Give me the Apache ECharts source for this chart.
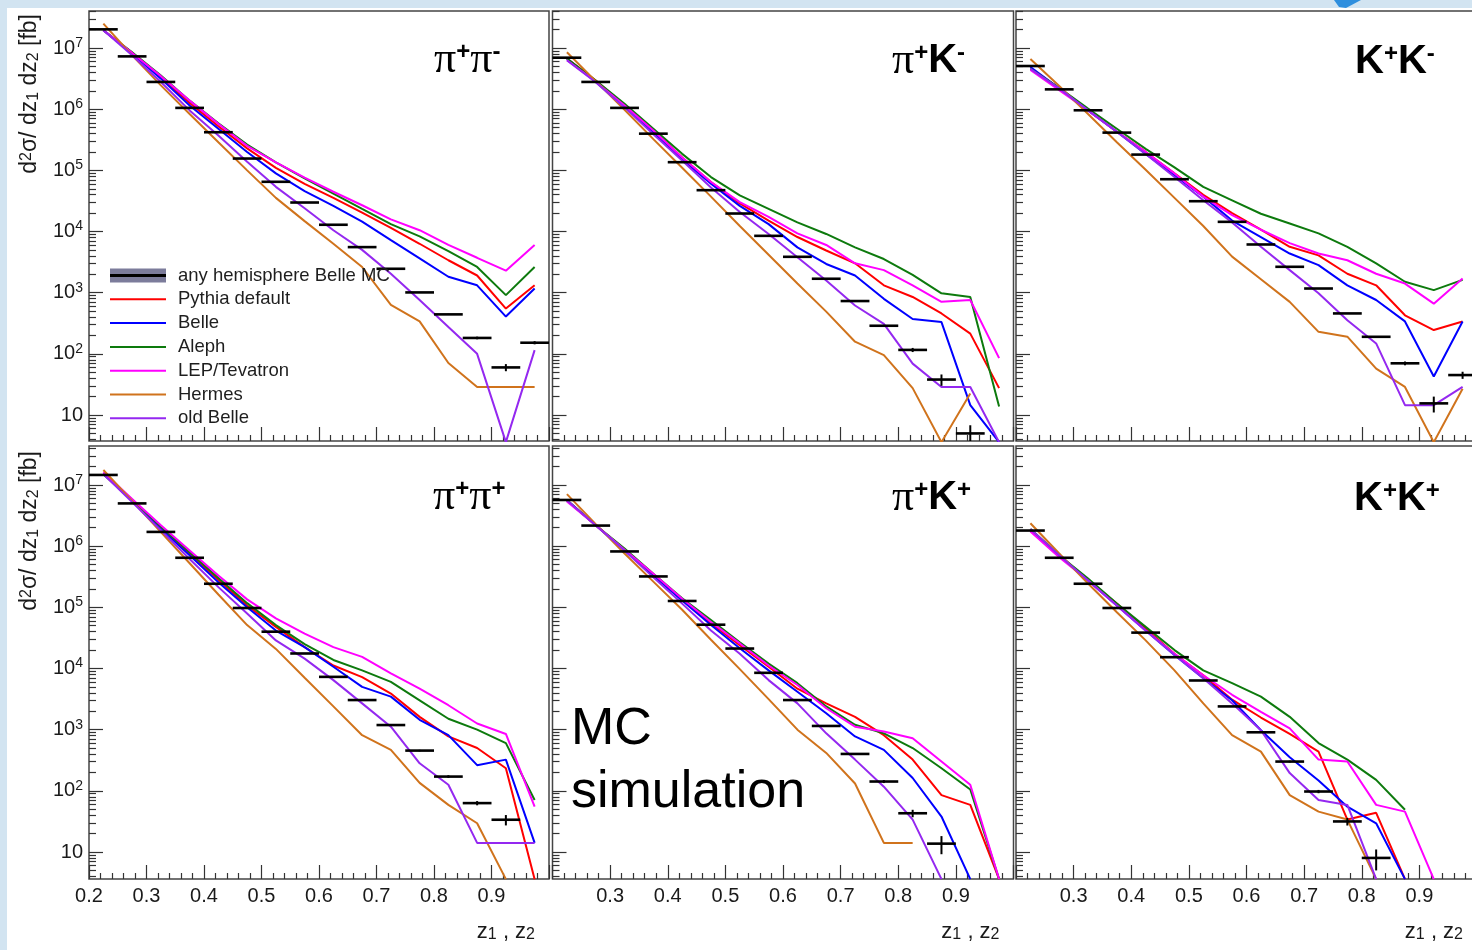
<!DOCTYPE html>
<html>
<head>
<meta charset="utf-8">
<script src="https://cdn.jsdelivr.net/npm/echarts@6/dist/echarts.min.js"></script>
<style>
  html, body { margin: 0; padding: 0; background: #ffffff; }
  #chart { width: 1472px; height: 950px; }
</style>
</head>
<body>
<div id="chart"></div>
<script>
// Bin centres in z (bins are 0.05 wide from 0.2 to 1.0)
const zCenters = [0.225, 0.275, 0.325, 0.375, 0.425, 0.475, 0.525, 0.575,
                  0.625, 0.675, 0.725, 0.775, 0.825, 0.875, 0.925, 0.975];
const halfBin = 0.025;

// Axis ticks
const xTickLabels = [0.2, 0.3, 0.4, 0.5, 0.6, 0.7, 0.8, 0.9];
const yMajorTicks = [10, 1e2, 1e3, 1e4, 1e5, 1e6, 1e7];
const yMinorTicks = [4, 5, 6, 7, 8, 9,
  20, 30, 40, 50, 60, 70, 80, 90,
  200, 300, 400, 500, 600, 700, 800, 900,
  2e3, 3e3, 4e3, 5e3, 6e3, 7e3, 8e3, 9e3,
  2e4, 3e4, 4e4, 5e4, 6e4, 7e4, 8e4, 9e4,
  2e5, 3e5, 4e5, 5e5, 6e5, 7e5, 8e5, 9e5,
  2e6, 3e6, 4e6, 5e6, 6e6, 7e6, 8e6, 9e6,
  2e7, 3e7, 4e7];

// ---- pi+ pi- ----
const pipimBelleMC = [2.02e7, 7.3e6, 2.79e6, 1.05e6, 4.2e5, 1.56e5, 6.5e4, 2.98e4, 1.29e4, 5.56e3, 2.46e3, 1.01e3, 442, 182, 60, 152];
const pipimErr     = [3e4, 1.2e4, 5e3, 2e3, 900, 400, 200, 100, 50, 30, 18, 12, 9, 9, 8, 9];
const pipimPythia  = [1.95e7, 8.32e6, 3.31e6, 1.26e6, 5.25e5, 2.29e5, 1.10e5, 6.03e4, 3.55e4, 2.04e4, 1.15e4, 6.31e3, 3.39e3, 1.91e3, 550, 1.32e3];
const pipimBelle   = [1.95e7, 8.13e6, 3.16e6, 1.15e6, 4.79e5, 2.0e5, 8.91e4, 4.57e4, 2.63e4, 1.45e4, 7.24e3, 3.63e3, 1.82e3, 1.32e3, 407, 1.17e3];
const pipimAleph   = [1.95e7, 8.51e6, 3.55e6, 1.38e6, 5.89e5, 2.63e5, 1.35e5, 7.41e4, 4.17e4, 2.34e4, 1.32e4, 8.32e3, 4.79e3, 2.63e3, 912, 2.63e3];
const pipimLep     = [1.95e7, 8.32e6, 3.47e6, 1.38e6, 5.75e5, 2.51e5, 1.35e5, 7.59e4, 4.47e4, 2.69e4, 1.58e4, 1.05e4, 6.03e3, 3.72e3, 2.29e3, 6.03e3];
const pipimHermes  = [2.51e7, 7.59e6, 2.45e6, 8.32e5, 2.88e5, 1.0e5, 3.55e4, 1.48e4, 6.31e3, 2.63e3, 631, 339, 70.8, 28.8, 28.8, 28.8];
const pipimOldBelle= [1.95e7, 7.59e6, 2.79e6, 9.55e5, 3.72e5, 1.38e5, 5.37e4, 2.40e4, 1.05e4, 5.01e3, 2.04e3, 759, 275, 100, 3.6, 115];

// ---- pi+ K- ----
const pipKmBelleMC = [6.95e6, 2.79e6, 1.05e6, 3.98e5, 1.36e5, 4.74e4, 1.97e4, 8.5e3, 3.86e3, 1.69e3, 730, 288, 116, 38, 5.0, null];
const pipKmErr     = [1.2e4, 5e3, 2e3, 900, 400, 180, 100, 55, 35, 22, 14, 9, 9, 8, 1.8, null];
const pipKmPythia  = [6.76e6, 2.95e6, 1.15e6, 4.47e5, 1.62e5, 6.46e4, 2.88e4, 1.51e4, 8.13e3, 4.90e3, 3.02e3, 1.32e3, 851, 457, 214, 27.5];
const pipKmBelle   = [6.76e6, 2.82e6, 1.10e6, 4.17e5, 1.51e5, 6.03e4, 2.63e4, 1.32e4, 5.50e3, 2.95e3, 1.91e3, 794, 372, 331, 14.5, 3.6];
const pipKmAleph   = [6.76e6, 2.95e6, 1.23e6, 4.79e5, 1.86e5, 7.76e4, 3.89e4, 2.34e4, 1.41e4, 9.12e3, 5.50e3, 3.55e3, 1.95e3, 977, 851, 13.8];
const pipKmLep     = [6.31e6, 2.82e6, 1.15e6, 4.47e5, 1.62e5, 6.46e4, 3.02e4, 1.74e4, 9.33e3, 6.03e3, 3.02e3, 2.34e3, 1.32e3, 708, 759, 85.1];
const pipKmHermes  = [8.51e6, 2.88e6, 9.77e5, 3.24e5, 1.10e5, 3.72e4, 1.23e4, 4.17e3, 1.41e3, 490, 158, 95.5, 27.5, 3.6, 22.4, null];
const pipKmOldBelle= [6.31e6, 2.75e6, 1.07e6, 3.89e5, 1.45e5, 5.25e4, 2.09e4, 9.12e3, 3.80e3, 1.58e3, 617, 309, 69.2, 28.8, 28.8, 3.6];

// ---- K+ K- ----
const KpKmBelleMC  = [5.08e6, 2.11e6, 9.6e5, 4.14e5, 1.81e5, 7.16e4, 3.13e4, 1.44e4, 6.14e3, 2.65e3, 1.17e3, 458, 190, 70, 15.5, 45];
const KpKmErr      = [9e3, 4e3, 2e3, 900, 400, 180, 100, 60, 35, 20, 13, 8, 6, 5, 4.5, 6];
const KpKmPythia   = [4.57e6, 2.19e6, 9.55e5, 4.27e5, 2.0e5, 8.91e4, 3.98e4, 2.0e4, 1.07e4, 5.62e3, 4.07e3, 2.04e3, 1.32e3, 427, 245, 339];
const KpKmBelle    = [4.90e6, 2.19e6, 9.55e5, 4.27e5, 1.86e5, 8.32e4, 3.72e4, 1.51e4, 8.13e3, 4.37e3, 2.82e3, 1.32e3, 759, 339, 42.7, 339];
const KpKmAleph    = [4.57e6, 2.24e6, 1.02e6, 4.79e5, 2.24e5, 1.12e5, 5.37e4, 3.24e4, 1.95e4, 1.35e4, 9.33e3, 5.62e3, 3.02e3, 1.51e3, 1.10e3, 1.62e3];
const KpKmLep      = [4.37e6, 2.04e6, 9.55e5, 4.27e5, 2.0e5, 8.91e4, 3.72e4, 1.86e4, 1.07e4, 6.46e3, 4.37e3, 3.39e3, 2.04e3, 1.41e3, 661, 1.70e3];
const KpKmHermes   = [6.61e6, 2.40e6, 8.32e5, 2.88e5, 1.02e5, 3.55e4, 1.23e4, 3.89e3, 1.66e3, 708, 229, 191, 57.5, 28.8, 3.6, 26.9];
const KpKmOldBelle = [4.57e6, 2.19e6, 9.55e5, 4.27e5, 1.86e5, 7.76e4, 3.24e4, 1.41e4, 5.62e3, 2.34e3, 977, 355, 148, 14.5, 14.5, 28.8];

// ---- pi+ pi+ ----
const pipipBelleMC = [1.46e7, 5.0e6, 1.71e6, 6.46e5, 2.43e5, 9.75e4, 4.0e4, 1.76e4, 7.3e3, 3.05e3, 1.19e3, 455, 171, 63, 33.7, null];
const pipipErr     = [2.5e4, 1e4, 4e3, 2e3, 800, 400, 200, 100, 55, 35, 20, 13, 9, 5, 6.5, null];
const pipipPythia  = [1.51e7, 5.50e6, 2.0e6, 7.59e5, 2.82e5, 1.07e5, 4.79e4, 2.24e4, 1.12e4, 7.24e3, 3.89e3, 1.62e3, 776, 501, 234, 3.6];
const pipipBelle   = [1.51e7, 5.50e6, 1.91e6, 7.08e5, 2.57e5, 1.0e5, 4.17e4, 2.24e4, 1.07e4, 5.01e3, 3.47e3, 1.45e3, 813, 263, 324, 14.1];
const pipipAleph   = [1.51e7, 5.75e6, 2.09e6, 7.94e5, 3.02e5, 1.17e5, 5.13e4, 2.51e4, 1.38e4, 9.33e3, 6.03e3, 3.02e3, 1.51e3, 1.0e3, 603, 70.8];
const pipipLep     = [1.62e7, 5.89e6, 2.19e6, 8.51e5, 3.31e5, 1.35e5, 6.61e4, 3.72e4, 2.24e4, 1.55e4, 8.32e3, 4.68e3, 2.51e3, 1.26e3, 851, 55.0];
const pipipHermes  = [1.76e7, 5.50e6, 1.70e6, 5.25e5, 1.62e5, 5.13e4, 2.09e4, 7.08e3, 2.40e3, 813, 468, 135, 58.9, 29.5, 3.6, null];
const pipipOldBelle= [1.51e7, 5.25e6, 1.82e6, 6.17e5, 2.14e5, 7.94e4, 2.88e4, 1.45e4, 6.46e3, 2.69e3, 1.12e3, 282, 126, 14.1, 14.1, 14.1];

// ---- pi+ K+ ----
const pipKpBelleMC = [5.69e6, 2.17e6, 8.2e5, 3.2e5, 1.27e5, 5.2e4, 2.12e4, 8.5e3, 3.05e3, 1.15e3, 401, 142, 43, 13.7, null, null];
const pipKpErr     = [1e4, 4e3, 1.8e3, 800, 350, 160, 90, 50, 30, 18, 11, 8, 6, 4.5, null, null];
const pipKpPythia  = [5.62e6, 2.19e6, 8.71e5, 3.39e5, 1.32e5, 5.50e4, 2.40e4, 1.07e4, 4.68e3, 2.69e3, 1.62e3, 813, 324, 85.1, 58.9, 3.6];
const pipKpBelle   = [5.62e6, 2.19e6, 8.51e5, 3.31e5, 1.29e5, 5.13e4, 2.14e4, 9.33e3, 4.17e3, 1.86e3, 776, 468, 162, 38.0, 3.6, null];
const pipKpAleph   = [5.62e6, 2.19e6, 9.12e5, 3.55e5, 1.41e5, 6.17e4, 2.69e4, 1.20e4, 5.75e3, 2.40e3, 1.20e3, 871, 501, 234, 105, 3.6];
const pipKpLep     = [5.37e6, 2.19e6, 8.71e5, 3.55e5, 1.38e5, 5.75e4, 2.57e4, 1.12e4, 5.37e3, 2.24e3, 1.12e3, 933, 724, 302, 126, 3.6];
const pipKpHermes  = [7.08e6, 2.29e6, 7.59e5, 2.63e5, 9.12e4, 2.95e4, 9.77e3, 3.16e3, 1.0e3, 417, 132, 14.1, 14.1, null, null, null];
const pipKpOldBelle= [5.62e6, 2.19e6, 8.51e5, 3.09e5, 1.15e5, 4.17e4, 1.74e4, 6.46e3, 2.69e3, 871, 324, 117, 33.9, 3.6, null, null];

// ---- K+ K+ ----
const KpKpBelleMC  = [1.8e6, 6.46e5, 2.43e5, 9.75e4, 3.86e4, 1.53e4, 6.37e3, 2.4e3, 906, 301, 97.5, 31.6, 8.0, null, null, null];
const KpKpErr      = [4e3, 1.8e3, 800, 350, 160, 80, 45, 25, 15, 10, 6, 4.5, 3, null, null, null];
const KpKpPythia   = [1.86e6, 7.08e5, 2.75e5, 1.15e5, 4.47e4, 1.74e4, 7.76e3, 3.09e3, 1.58e3, 851, 437, 33.9, 43.7, 3.6, null, null];
const KpKpBelle    = [1.82e6, 7.08e5, 2.75e5, 1.07e5, 4.17e4, 1.66e4, 6.92e3, 3.02e3, 977, 355, 148, 55.0, 29.5, 3.6, null, null];
const KpKpAleph    = [1.91e6, 7.08e5, 2.95e5, 1.15e5, 4.79e4, 2.0e4, 9.33e3, 5.75e3, 3.47e3, 1.62e3, 603, 324, 151, 49.0, null, null];
const KpKpLep      = [1.74e6, 6.61e5, 2.75e5, 1.07e5, 4.17e4, 1.74e4, 7.76e3, 3.72e3, 1.95e3, 1.05e3, 324, 302, 58.9, 45.7, 3.6, null];
const KpKpHermes   = [2.37e6, 7.59e5, 2.45e5, 8.32e4, 2.88e4, 9.33e3, 2.69e3, 813, 437, 85.1, 45.7, 33.9, 3.6, null, null, null];
const KpKpOldBelle = [1.91e6, 7.08e5, 2.75e5, 1.07e5, 4.17e4, 1.66e4, 6.92e3, 2.69e3, 977, 195, 70.8, 58.9, 3.6, null, null, null];

// ---- presentation ----
const FONT = "'Liberation Sans', Arial, Helvetica, sans-serif";
const SERIF = "'Liberation Serif', 'Times New Roman', serif";
const TEXT_COLOR = '#1a1a1a';
const AXIS_COLOR = '#333333';
const MC_NAME = 'any hemisphere Belle MC';
const LINE_ICON = 'path://M0,0H56V2H0Z';

const models = [
  { key: 'pythia',   name: 'Pythia default', color: '#ff0000' },
  { key: 'belle',    name: 'Belle',          color: '#0000ff' },
  { key: 'aleph',    name: 'Aleph',          color: '#0d7a0d' },
  { key: 'lep',      name: 'LEP/Tevatron',   color: '#ff00ff' },
  { key: 'hermes',   name: 'Hermes',         color: '#d0731c' },
  { key: 'oldBelle', name: 'old Belle',      color: '#9428f0' }
];

const panels = [
  { label: '{p|π}{s|+}{p|π}{s|-}', lx: 434, ly: 60,  mc: pipimBelleMC, err: pipimErr, pythia: pipimPythia, belle: pipimBelle, aleph: pipimAleph, lep: pipimLep, hermes: pipimHermes, oldBelle: pipimOldBelle },
  { label: '{p|π}{s|+}{k|K}{s|-}', lx: 892, ly: 61,  mc: pipKmBelleMC, err: pipKmErr, pythia: pipKmPythia, belle: pipKmBelle, aleph: pipKmAleph, lep: pipKmLep, hermes: pipKmHermes, oldBelle: pipKmOldBelle },
  { label: '{k|K}{s|+}{k|K}{s|-}', lx: 1355, ly: 62, mc: KpKmBelleMC,  err: KpKmErr,  pythia: KpKmPythia,  belle: KpKmBelle,  aleph: KpKmAleph,  lep: KpKmLep,  hermes: KpKmHermes,  oldBelle: KpKmOldBelle },
  { label: '{p|π}{s|+}{p|π}{s|+}', lx: 433, ly: 497, mc: pipipBelleMC, err: pipipErr, pythia: pipipPythia, belle: pipipBelle, aleph: pipipAleph, lep: pipipLep, hermes: pipipHermes, oldBelle: pipipOldBelle },
  { label: '{p|π}{s|+}{k|K}{s|+}', lx: 892, ly: 498, mc: pipKpBelleMC, err: pipKpErr, pythia: pipKpPythia, belle: pipKpBelle, aleph: pipKpAleph, lep: pipKpLep, hermes: pipKpHermes, oldBelle: pipKpOldBelle },
  { label: '{k|K}{s|+}{k|K}{s|+}', lx: 1354, ly: 499, mc: KpKpBelleMC, err: KpKpErr,  pythia: KpKpPythia,  belle: KpKpBelle,  aleph: KpKpAleph,  lep: KpKpLep,  hermes: KpKpHermes,  oldBelle: KpKpOldBelle }
];

const gridBoxes = [
  { left: 89,    top: 11,  width: 460, height: 430 },
  { left: 552.5, top: 11,  width: 461, height: 430 },
  { left: 1016,  top: 11,  width: 461, height: 430 },
  { left: 89,    top: 446, width: 460, height: 433 },
  { left: 552.5, top: 446, width: 461, height: 433 },
  { left: 1016,  top: 446, width: 461, height: 433 }
];
const yRanges = [[3.76, 4.03e7], [3.62, 4.34e7]];

function supFmt(v) {
  const e = Math.round(Math.log10(v));
  return e === 1 ? '10' : '10{sup|' + e + '}';
}

// Black horizontal bin bar with vertical error bar for the MC reference
function renderMcBin(params, api) {
  const z = api.value(0), y = api.value(1), e = api.value(2);
  const a = api.coord([z - halfBin, y]);
  const b = api.coord([z + halfBin, y]);
  const kids = [{
    type: 'line',
    shape: { x1: a[0], y1: a[1], x2: b[0], y2: b[1] },
    style: { stroke: '#000', lineWidth: 2.6 }
  }];
  if (e > 0) {
    const lo = api.coord([z, Math.max(y - e, 1e-3)]);
    const hi = api.coord([z, y + e]);
    kids.push({
      type: 'line',
      shape: { x1: lo[0], y1: lo[1], x2: hi[0], y2: hi[1] },
      style: { stroke: '#000', lineWidth: 2 }
    });
  }
  return { type: 'group', children: kids };
}

const grids = [], xAxes = [], yAxes = [], series = [];

panels.forEach((p, i) => {
  const row = i < 3 ? 0 : 1;
  const col = i % 3;
  const box = gridBoxes[i];
  grids.push({
    left: box.left, top: box.top, width: box.width, height: box.height,
    show: true, borderColor: '#444', borderWidth: 1.5, backgroundColor: 'transparent',
    containLabel: false, outerBoundsMode: 'none'
  });
  xAxes.push({
    type: 'value', gridIndex: i, min: 0.2, max: 1.0, interval: 0.1,
    axisLine: { show: false, onZero: false },
    axisTick: { show: true, inside: true, length: 14, lineStyle: { color: AXIS_COLOR, width: 1.2 } },
    minorTick: { show: true, splitNumber: 5, length: 6, lineStyle: { color: AXIS_COLOR, width: 1.2 } },
    splitLine: { show: false },
    axisLabel: {
      show: row === 1, fontFamily: FONT, fontSize: 20, color: TEXT_COLOR, margin: 7,
      showMinLabel: col === 0, showMaxLabel: false,
      formatter: v => (xTickLabels.some(t => Math.abs(t - v) < 1e-6) ? v.toFixed(1) : '')
    }
  });
  const [ymin, ymax] = yRanges[row];
  yAxes.push({
    type: 'log', logBase: 10, gridIndex: i, position: 'left', min: ymin, max: ymax,
    axisLine: { show: false },
    splitLine: { show: false },
    axisTick: { show: true, inside: true, length: 14, customValues: yMajorTicks,
                lineStyle: { color: AXIS_COLOR, width: 1.2 } },
    axisLabel: {
      show: col === 0, customValues: yMajorTicks, formatter: supFmt,
      fontFamily: FONT, fontSize: 20, color: TEXT_COLOR, margin: 6, lineHeight: 24,
      rich: { sup: { fontFamily: FONT, fontSize: 14, lineHeight: 12, verticalAlign: 'top', color: TEXT_COLOR } }
    }
  });
  yAxes.push({
    type: 'log', logBase: 10, gridIndex: i, position: 'left', min: ymin, max: ymax,
    axisLine: { show: false },
    splitLine: { show: false },
    axisTick: { show: true, inside: true, length: 7, customValues: yMinorTicks,
                lineStyle: { color: AXIS_COLOR, width: 1.2 } },
    axisLabel: { show: false }
  });

  models.forEach(m => {
    series.push({
      type: 'line', name: m.name, xAxisIndex: i, yAxisIndex: 2 * i,
      data: zCenters.map((z, k) => [z, p[m.key][k]]),
      showSymbol: false, symbol: 'none', clip: true, connectNulls: false,
      lineStyle: { color: m.color, width: 2 }, itemStyle: { color: m.color },
      emphasis: { disabled: true }, z: 2
    });
  });
  series.push({
    type: 'custom', name: MC_NAME, xAxisIndex: i, yAxisIndex: 2 * i,
    data: zCenters.map((z, k) => [z, p.mc[k], p.err[k]]).filter(d => d[1] != null),
    renderItem: renderMcBin, clip: true, z: 3,
    itemStyle: { color: '#7c7c9b' }
  });
});

const richSub = {
  sup: { fontFamily: FONT, fontSize: 16, lineHeight: 14, verticalAlign: 'top', fill: TEXT_COLOR },
  sub: { fontFamily: FONT, fontSize: 16, lineHeight: 14, verticalAlign: 'bottom', fill: TEXT_COLOR }
};
const labelRich = {
  p: { fontFamily: SERIF, fontSize: 44, lineHeight: 40, fill: '#000' },
  k: { fontFamily: FONT, fontWeight: 'bold', fontSize: 40, lineHeight: 40, fill: '#000' },
  s: { fontFamily: FONT, fontWeight: 'bold', fontSize: 24, lineHeight: 22, verticalAlign: 'top', fill: '#000' }
};

const graphics = [
  // slide frame strips and corner mark
  { type: 'rect', silent: true, shape: { x: 0, y: 0, width: 1472, height: 8 }, style: { fill: '#d2e4f1' } },
  { type: 'rect', silent: true, shape: { x: 0, y: 0, width: 7, height: 950 }, style: { fill: '#d2e4f1' } },
  { type: 'polygon', silent: true, shape: { points: [[1334, 0], [1361, 0], [1346, 8], [1339, 7]] }, style: { fill: '#2f8fde' } },
  // black line through the MC legend swatch
  { type: 'line', silent: true, z: 100, shape: { x1: 110, y1: 275.5, x2: 166, y2: 275.5 }, style: { stroke: '#000', lineWidth: 3 } },
  // y axis titles
  { type: 'text', silent: true, x: 30, y: 14, rotation: Math.PI / 2,
    style: { text: 'd{sup|2}σ/ dz{sub|1} dz{sub|2} [fb]', fontFamily: FONT, fontSize: 23, fill: TEXT_COLOR,
             align: 'right', verticalAlign: 'middle', rich: richSub } },
  { type: 'text', silent: true, x: 30, y: 451, rotation: Math.PI / 2,
    style: { text: 'd{sup|2}σ/ dz{sub|1} dz{sub|2} [fb]', fontFamily: FONT, fontSize: 23, fill: TEXT_COLOR,
             align: 'right', verticalAlign: 'middle', rich: richSub } },
  // MC simulation note
  { type: 'text', silent: true, x: 571, y: 730,
    style: { text: 'MC', fontFamily: FONT, fontSize: 52, fill: '#000', align: 'left', verticalAlign: 'middle' } },
  { type: 'text', silent: true, x: 571, y: 793,
    style: { text: 'simulation', fontFamily: FONT, fontSize: 52, fill: '#000', align: 'left', verticalAlign: 'middle' } }
];

// x axis titles under the bottom row
[3, 4, 5].forEach(i => {
  const box = gridBoxes[i];
  graphics.push({
    type: 'text', silent: true, x: box.left + box.width - 14, y: 932,
    style: { text: 'z{sub|1} , z{sub|2}', fontFamily: FONT, fontSize: 22, fill: TEXT_COLOR,
             align: 'right', verticalAlign: 'middle', rich: richSub }
  });
});

// particle-pair labels
panels.forEach(p => {
  graphics.push({
    type: 'text', silent: true, x: p.lx, y: p.ly,
    style: { text: p.label, fill: '#000', align: 'left', verticalAlign: 'middle', rich: labelRich }
  });
});

const chart = echarts.init(document.getElementById('chart'), null, { renderer: 'canvas' });
chart.setOption({
  backgroundColor: '#ffffff',
  animation: false,
  grid: grids,
  xAxis: xAxes,
  yAxis: yAxes,
  legend: {
    show: true, orient: 'vertical', left: 110, top: 266, padding: 0,
    itemWidth: 56, itemHeight: 14, itemGap: 4.8, selectedMode: false,
    textStyle: { fontFamily: FONT, fontSize: 18.5, lineHeight: 18.5, color: '#1e1e1e', padding: [0, 0, 0, 7] },
    data: [
      { name: MC_NAME, icon: 'rect', itemStyle: { color: '#7c7c9b' } },
      ...models.map(m => ({ name: m.name, icon: LINE_ICON, itemStyle: { color: m.color } }))
    ]
  },
  series: series,
  graphic: { elements: graphics }
});
</script>
</body>
</html>
